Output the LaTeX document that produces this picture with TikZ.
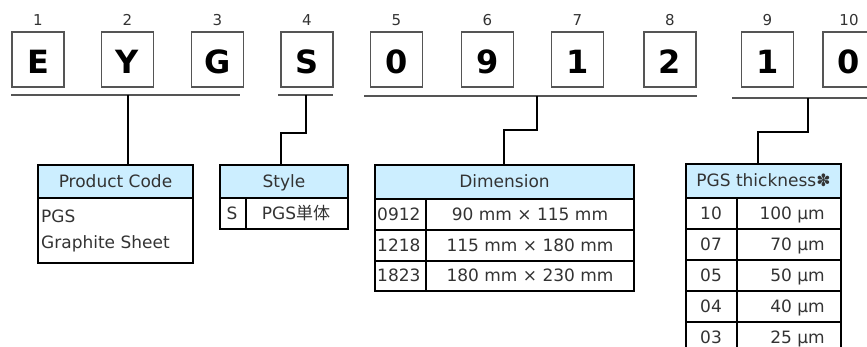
\documentclass[tikz,border=0pt]{standalone}
\usepackage{fontspec}
\setmainfont{DejaVu Sans}
\newfontfamily\jpfont{Noto Sans CJK JP}
\definecolor{hdr}{HTML}{CCEEFF}
\definecolor{txt}{HTML}{333333}
\definecolor{boxgray}{HTML}{555555}
\begin{document}
\begin{tikzpicture}[x=1pt,y=-1pt,
  digitbox/.style={draw=boxgray, line width=1.2pt, minimum width=52pt, minimum height=55pt, inner sep=0pt},
  bigch/.style={font=\fontsize{32}{36}\selectfont\bfseries, anchor=base, inner sep=0pt, text=black},
  posnum/.style={font=\fontsize{15}{17}\selectfont, anchor=base, inner sep=0pt, text=txt},
  uline/.style={draw=boxgray, line width=1.2pt},
  conn/.style={draw=black, line width=1.5pt},
  hdrcell/.style={draw=black, line width=1.6pt, fill=hdr, inner sep=0pt},
  tline/.style={draw=black, line width=1.6pt},
  cell/.style={font=\fontsize{17}{20}\selectfont, text=txt, inner sep=0pt, anchor=base}
]
\useasboundingbox (0,0) rectangle (867,347);

% ---- code boxes ----
\foreach \x/\ch/\n [count=\i] in {38/E/1,127.5/Y/2,217.5/G/3,307/S/4,396.5/0/5,487.5/9/6,577.5/1/7,670/2/8,767.5/1/9,849/0/10}{
  \node[digitbox] (box\i) at (\x,59.5) {};
  \node[bigch] (ch\i) at (\x,74) {\ch};
  \node[posnum] (num\i) at (\x,25.5) {\n};
}

% ---- underlines ----
\draw[uline] (11,95) -- (240,95);
\draw[uline] (278,95) -- (333,95);
\draw[uline] (364,96) -- (697,96);
\draw[uline] (732,98) -- (867,98);

% ---- table bodies ----
% Product Code
\draw[tline] (38,198) rectangle (193,263);
% Style
\draw[tline] (220,198) rectangle (348,229);
\draw[tline] (246,198) -- (246,229);
% Dimension
\draw[tline] (375,198) rectangle (634,291);
\draw[tline] (375,230) -- (634,230);
\draw[tline] (375,261) -- (634,261);
\draw[tline] (426,198) -- (426,291);
% Thickness
\draw[tline] (686,198) -- (686,352);
\draw[tline] (841,198) -- (841,352);
\draw[tline] (737,198) -- (737,352);
\foreach \yy in {229,260,291,322}{ \draw[tline] (686,\yy) -- (841,\yy); }

% ---- headers ----
\node[hdrcell, minimum width=155pt, minimum height=33pt] (h1) at (115.5,181.5) {};
\node[hdrcell, minimum width=128pt, minimum height=33pt] (h2) at (284,181.5) {};
\node[hdrcell, minimum width=259pt, minimum height=34pt] (h3) at (504.5,182) {};
\node[hdrcell, minimum width=155pt, minimum height=34pt] (h4) at (763.5,181) {};

\node[cell] (t1) at (115.5,187.5) {Product Code};
\node[cell] (t2) at (284,187.5) {Style};
\node[cell] (t3) at (504.5,188) {Dimension};
\node[cell] (t4) at (763.5,187) {PGS thickness✽};

% ---- connectors ----
\coordinate (u1) at (128,95);
\draw[conn] (u1) -- (h1.north -| u1);
\coordinate (u2) at (306,95);
\coordinate (k2) at (281,133);
\draw[conn] (u2) |- (k2) -- (k2 |- h2.north);
\coordinate (u3) at (537,96);
\coordinate (k3) at (504,130);
\draw[conn] (u3) |- (k3) -- (k3 |- h3.north);
\coordinate (u4) at (808,98);
\coordinate (k4) at (758,132);
\draw[conn] (u4) |- (k4) -- (k4 |- h4.north);

% ---- cell texts ----
\node[cell, anchor=base west] (pc1) at (41,223) {PGS};
\node[cell, anchor=base west] (pc2) at (41,249) {Graphite Sheet};

\node[cell] (s1) at (232,219.5) {S};
\node[cell] (s2) at (296,219.5) {PGS{\jpfont 単体}};

\node[cell, anchor=base west] (d1a) at (377,220.5) {0912};
\node[cell] (d1b) at (530,220.5) {90 mm × 115 mm};
\node[cell, anchor=base west] (d2a) at (377,251.5) {1218};
\node[cell] (d2b) at (530,251.5) {115 mm × 180 mm};
\node[cell, anchor=base west] (d3a) at (377,282) {1823};
\node[cell] (d3b) at (530,282) {180 mm × 230 mm};

\foreach \code/\val/\yy [count=\j] in {10/100 µm/219.5,07/70 µm/250.5,05/50 µm/281.5,04/40 µm/312.5,03/25 µm/343.5}{
  \node[cell] (ta\j) at (711,\yy) {\code};
  \node[cell, anchor=base east] (tb\j) at (825,\yy) {\val};
}
\end{tikzpicture}
\end{document}
